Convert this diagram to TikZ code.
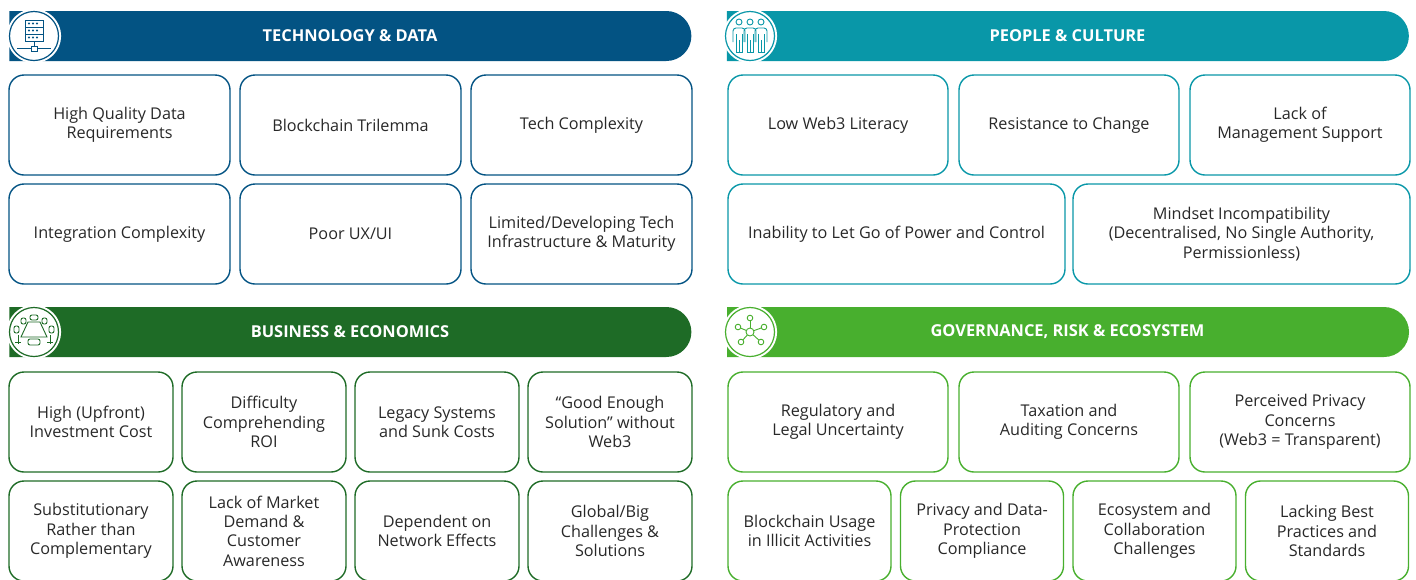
\documentclass[tikz,border=0pt]{standalone}
\usepackage{fontspec}
\setmainfont{Open Sans}
\usetikzlibrary{shapes.misc, positioning}
\definecolor{techblue}{RGB}{3,83,131}
\definecolor{peopleteal}{RGB}{9,151,168}
\definecolor{bizgreen}{RGB}{30,107,38}
\definecolor{govgreen}{RGB}{72,175,46}
\definecolor{ink}{RGB}{40,40,40}
\begin{document}
\begin{tikzpicture}[x=0.5pt, y=-0.5pt,
  cell/.style={draw, rounded corners=7.5pt, line width=0.7pt, align=center, inner sep=0pt,
    outer sep=0pt, minimum height=50pt, text=ink, font=\fontsize{8.1}{9.7}\selectfont},
  bar/.style={rounded rectangle, rounded rectangle left arc=none, minimum width=341pt,
    minimum height=25pt, inner sep=0pt, text=white, font=\bfseries\fontsize{8.2}{9}\selectfont},
  ring/.style={circle, fill=white, line width=0.6pt, minimum size=24.5pt, inner sep=0pt,
    preaction={draw=white, line width=2.6pt}},
  ico/.style={line width=0.45pt}]
\useasboundingbox (0,0) rectangle (1416,579);

% technology & data
\node[bar, fill=techblue] (tbar) at (350,36) {TECHNOLOGY \& DATA};
\node[ring, draw=techblue] (tring) at (34,36) {};
\begin{scope}[shift={(tring.center)}, techblue, ico]
\foreach \yy in {-16,-9,-2} {
  \draw (-9,\yy) rectangle (9,\yy+7);
  \foreach \xx in {-5,-1,3} \fill (\xx,\yy+3.5) circle (0.55pt);
}
\draw (0,5) -- (0,10) (-3,10) rectangle (3,15) (-17,12.5) -- (-3,12.5) (3,12.5) -- (17,12.5);
\end{scope}
\node[cell, draw=techblue, minimum width=110.5pt] (t1) at (119.5,125) {High Quality Data\\Requirements};
\node[cell, draw=techblue, minimum width=110.5pt, right=5pt of t1] (t2) {Blockchain Trilemma};
\node[cell, draw=techblue, minimum width=110.5pt, right=5pt of t2] (t3) {Tech Complexity};
\node[cell, draw=techblue, minimum width=110.5pt, below=4.5pt of t1] (t4) {Integration Complexity};
\node[cell, draw=techblue, minimum width=110.5pt, right=5pt of t4] (t5) {Poor UX/UI};
\node[cell, draw=techblue, minimum width=110.5pt, right=5pt of t5] (t6) {Limited/Developing Tech\\Infrastructure \& Maturity};

% people & culture
\node[bar, fill=peopleteal] (pbar) at (1067.5,36) {PEOPLE \& CULTURE};
\node[ring, draw=peopleteal] (pring) at (750,36) {};
\begin{scope}[shift={(pring.center)}, peopleteal, ico]
\foreach \xx in {-11,0,11} {
  \draw (\xx,-14) circle (1.5pt);
  \draw[rounded corners=1.5pt] (\xx-6,6) -- (\xx-6,-8) -- (\xx+6,-8) -- (\xx+6,6);
  \draw (\xx-3,-2) -- (\xx-3,16) -- (\xx+3,16) -- (\xx+3,-2) (\xx,4) -- (\xx,16);
}
\end{scope}
\node[cell, draw=peopleteal, minimum width=110pt] (p1) at (838,125) {Low Web3 Literacy};
\node[cell, draw=peopleteal, minimum width=110pt, right=5.5pt of p1] (p2) {Resistance to Change};
\node[cell, draw=peopleteal, minimum width=110pt, right=5.5pt of p2] (p3) {Lack of\\Management Support};
\node[cell, draw=peopleteal, minimum width=168.5pt] (p4) at (896.5,234) {Inability to Let Go of Power and Control};
\node[cell, draw=peopleteal, minimum width=168.5pt, right=4pt of p4] (p5) {Mindset Incompatibility\\(Decentralised, No Single Authority,\\Permissionless)};

% business & economics
\node[bar, fill=bizgreen] (bbar) at (350,332) {BUSINESS \& ECONOMICS};
\node[ring, draw=bizgreen] (bring) at (34,332) {};
\begin{scope}[shift={(bring.center)}, bizgreen, ico]
\draw (-6,-10) -- (6,-10) -- (13,5) -- (-13,5) -- cycle;
\draw[rounded corners=1pt] (-4,-17) rectangle (4,-12);
\draw[rounded corners=1pt] (-13,-14) rectangle (-8,-8) (8,-14) rectangle (13,-8);
\draw[rounded corners=1pt] (-20,-6) rectangle (-15,1) (15,-6) rectangle (20,1);
\draw[rounded corners=1pt] (-6,7) rectangle (6,13);
\draw (-19,10) -- (-13,10) (13,10) -- (19,10) (-16,3) -- (-16,12) (16,3) -- (16,12);
\end{scope}
\node[cell, draw=bizgreen, minimum width=82pt] (b1) at (91,422) {High (Upfront)\\Investment Cost};
\node[cell, draw=bizgreen, minimum width=82pt, right=4.5pt of b1] (b2) {Difficulty\\Comprehending\\ROI};
\node[cell, draw=bizgreen, minimum width=82pt, right=4.5pt of b2] (b3) {Legacy Systems\\and Sunk Costs};
\node[cell, draw=bizgreen, minimum width=82pt, right=4.5pt of b3] (b4) {“Good Enough\\Solution” without\\Web3};
\node[cell, draw=bizgreen, minimum width=82pt, below=4.5pt of b1] (b5) {Substitutionary\\Rather than\\Complementary};
\node[cell, draw=bizgreen, minimum width=82pt, right=4.5pt of b5] (b6) {Lack of Market\\Demand \&\\Customer\\Awareness};
\node[cell, draw=bizgreen, minimum width=82pt, right=4.5pt of b6] (b7) {Dependent on\\Network Effects};
\node[cell, draw=bizgreen, minimum width=82pt, right=4.5pt of b7] (b8) {Global/Big\\Challenges \&\\Solutions};

% governance, risk & ecosystem
\node[bar, fill=govgreen] (gbar) at (1067.5,332) {GOVERNANCE, RISK \& ECOSYSTEM};
\node[ring, draw=govgreen] (gring) at (750,332) {};
\begin{scope}[shift={(gring.center)}, govgreen, ico]
\foreach \pt in {(0,-14),(-12,-5),(14,-5),(-9,10),(11,10)} {
  \draw (0,0) -- \pt;
  \draw[fill=white] \pt circle (1.4pt);
}
\draw[fill=white] (0,0) circle (2pt);
\end{scope}
\node[cell, draw=govgreen, minimum width=110pt] (g1) at (838,422) {Regulatory and\\Legal Uncertainty};
\node[cell, draw=govgreen, minimum width=110pt, right=5.5pt of g1] (g2) {Taxation and\\Auditing Concerns};
\node[cell, draw=govgreen, minimum width=110pt, right=5.5pt of g2] (g3) {Perceived Privacy\\Concerns\\(Web3 = Transparent)};
\node[cell, draw=govgreen, minimum width=81.5pt] (g4) at (809.5,531) {Blockchain Usage\\in Illicit Activities};
\node[cell, draw=govgreen, minimum width=81.5pt, right=4.75pt of g4] (g5) {Privacy and Data-\\Protection\\Compliance};
\node[cell, draw=govgreen, minimum width=81.5pt, right=4.75pt of g5] (g6) {Ecosystem and\\Collaboration\\Challenges};
\node[cell, draw=govgreen, minimum width=81.5pt, right=4.75pt of g6] (g7) {Lacking Best\\Practices and\\Standards};
\end{tikzpicture}
\end{document}
